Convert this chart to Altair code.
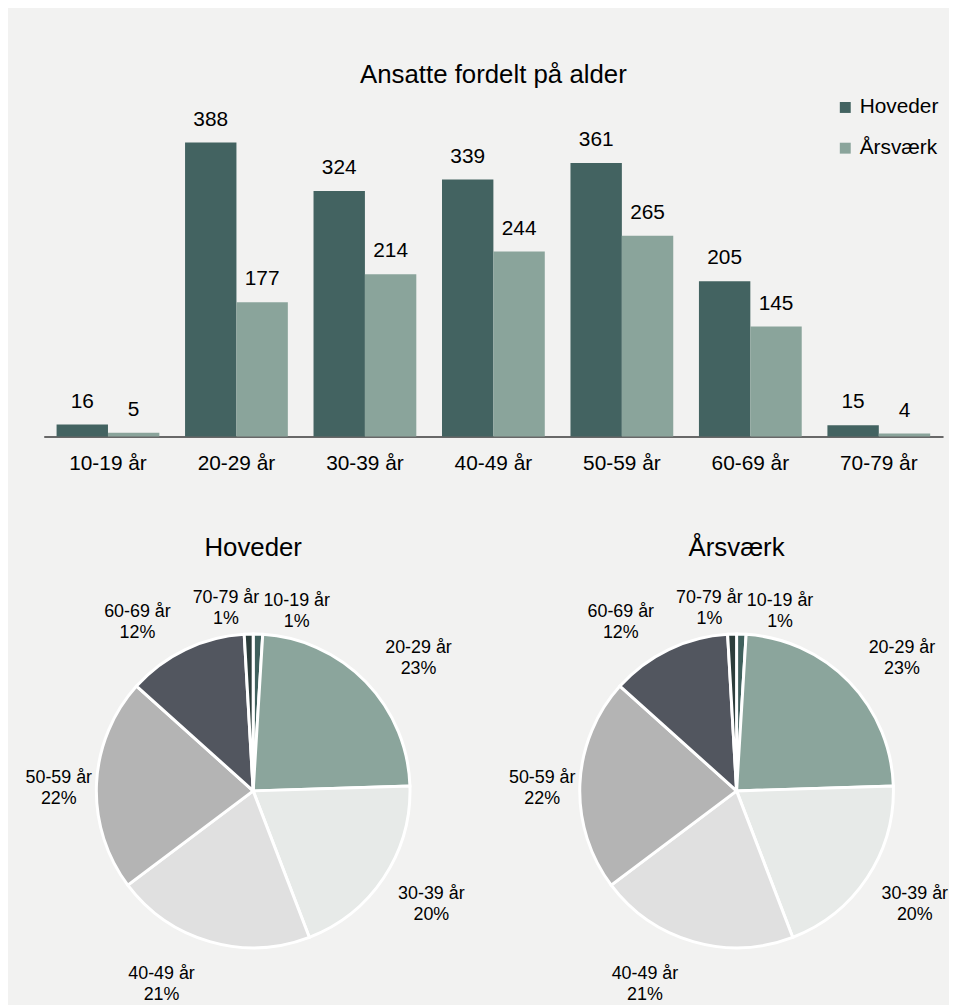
import altair as alt
import pandas as pd

FONT = "Liberation Sans"

# ---- data ----
ages = ["10-19 år", "20-29 år", "30-39 år", "40-49 år", "50-59 år", "60-69 år", "70-79 år"]
series = ["Hoveder", "Årsværk"]
hoveder = [16, 388, 324, 339, 361, 205, 15]
aarsvaerk = [5, 177, 214, 244, 265, 145, 4]

pie_hoveder_values = [16, 388, 324, 339, 361, 205, 15]
pie_hoveder_pct = ["1%", "23%", "20%", "21%", "22%", "12%", "1%"]
pie_aarsvaerk_values = [16, 388, 324, 339, 361, 205, 15]
pie_aarsvaerk_pct = ["1%", "23%", "20%", "21%", "22%", "12%", "1%"]

bar_colors = ["#436361", "#8aa49b"]
pie_colors_h = ["#3f605c", "#8ba59c", "#e7eae8", "#e0e0e0", "#b4b4b4", "#52565f", "#2c3d3b"]
pie_colors_a = ["#3f605c", "#8ba59c", "#e7eae8", "#e6e7e9", "#b4b4b4", "#52565f", "#2c3d3b"]

# label placement style (radius, dx, dy) per slice, mimicking the best-fit label layout
label_style = {
    "10-19 år": (190, 38, -1),
    "20-29 år": (200, 23, -5),
    "30-39 år": (200, 13, -7),
    "40-49 år": (200, -37, -8),
    "50-59 år": (200, 4, -4),
    "60-69 år": (200, -30, 0),
    "70-79 år": (190, -22, -4),
}

# ---- bar chart ----
bar_df = pd.DataFrame({
    "age": ages * 2,
    "series": [series[0]] * len(ages) + [series[1]] * len(ages),
    "value": hoveder + aarsvaerk,
})

x_enc = alt.X("age:N", sort=ages,
              scale=alt.Scale(paddingInner=0.2, paddingOuter=0.1),
              axis=alt.Axis(title=None, labelAngle=0, labelFontSize=21, labelFont=FONT,
                            labelColor="#000000", ticks=False, domainColor="#3a3a3a",
                            domainWidth=1.5, labelPadding=16, grid=False))
xo_enc = alt.XOffset("series:N", sort=series, scale=alt.Scale(paddingInner=0, paddingOuter=0))
y_enc = alt.Y("value:Q", scale=alt.Scale(domain=[0, 440], nice=False, zero=True), axis=None)

bars = alt.Chart(bar_df).mark_bar().encode(
    x=x_enc, xOffset=xo_enc, y=y_enc,
    color=alt.Color("series:N", sort=series,
                    scale=alt.Scale(domain=series, range=bar_colors),
                    legend=alt.Legend(title=None, orient="none", legendX=797, legendY=-6,
                                      symbolType="square", symbolSize=121, symbolStrokeWidth=0,
                                      labelFontSize=21, labelFont=FONT, labelColor="#000000",
                                      rowPadding=19, labelOffset=4, padding=0)),
)
bar_labels = alt.Chart(bar_df).mark_text(baseline="alphabetic", dy=-17, fontSize=21,
                                         font=FONT, color="#000000").encode(
    x=x_enc, xOffset=xo_enc, y=y_enc, text="value:Q")

bar_chart = alt.layer(bars, bar_labels).properties(
    width=906, height=336,
    title=alt.TitleParams("Ansatte fordelt på alder", fontSize=26, font=FONT,
                          fontWeight="normal", color="#000000", anchor="middle", offset=9),
)


# ---- pies ----
def make_pie(values, pcts, colors, title):
    df = pd.DataFrame({"age": ages, "value": values, "pct": pcts, "idx": list(range(len(ages)))})
    base = alt.Chart(df).encode(
        theta=alt.Theta("value:Q", stack=True),
        order=alt.Order("idx:Q"),
    )
    arcs = base.mark_arc(radius=158, stroke="#ffffff", strokeWidth=3).encode(
        color=alt.Color("age:N", sort=ages, scale=alt.Scale(domain=ages, range=colors), legend=None)
    )
    layers = [arcs]
    for i, age in enumerate(ages):
        r, dx, dy = label_style[age]
        layers.append(
            base.transform_calculate(
                lab=f"datum.idx == {i} ? datum.age + '\\n' + datum.pct : ''"
            ).mark_text(radius=r, dx=dx, dy=dy, fontSize=18, font=FONT, color="#000000",
                        lineHeight=21, lineBreak="\n", align="center",
                        baseline="middle").encode(text="lab:N")
        )
    return alt.layer(*layers).properties(
        width=422, height=420,
        title=alt.TitleParams(title, fontSize=26, font=FONT, fontWeight="normal",
                              color="#000000", anchor="middle", offset=15),
    )


pie1 = make_pie(pie_hoveder_values, pie_hoveder_pct, pie_colors_h, "Hoveder")
pie2 = make_pie(pie_aarsvaerk_values, pie_aarsvaerk_pct, pie_colors_a, "Årsværk")

pies = alt.hconcat(pie1, pie2, spacing=65).properties(bounds="flush")

chart = alt.vconcat(bar_chart, pies, spacing=147).properties(
    bounds="flush",
    padding={"left": 10, "top": 51, "right": 0, "bottom": 0},
    background="#f2f2f1",
).resolve_scale(color="independent").configure_view(stroke=None)

chart.save("out.html", embed_options={"renderer": "svg", "actions": False})
